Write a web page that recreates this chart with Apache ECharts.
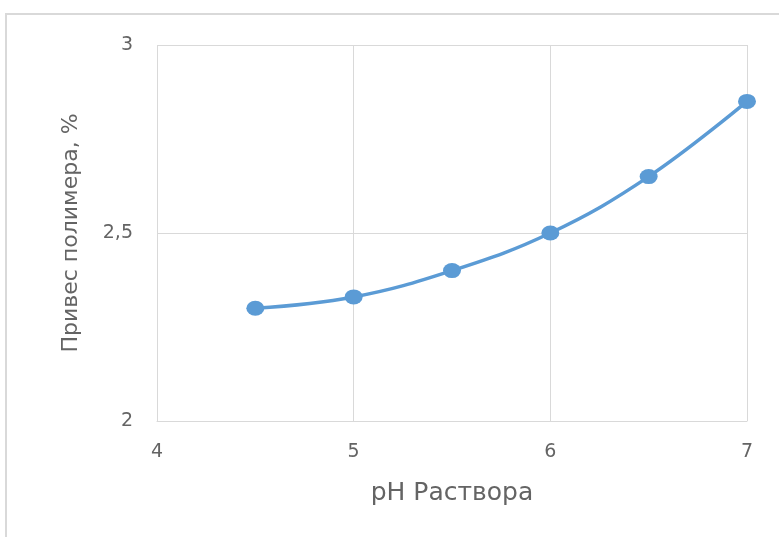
<!DOCTYPE html>
<html>
<head>
<meta charset="utf-8">
<style>
  html, body { margin: 0; padding: 0; background: #fff; }
  #chart { width: 779px; height: 537px; }
</style>
<script src="https://cdn.jsdelivr.net/npm/echarts@6/dist/echarts.min.js"></script>
</head>
<body>
<div id="chart"></div>
<script>
// pH of the solution and the measured polymer weight gain
const phValues = [4.5, 5, 5.5, 6, 6.5, 7];
const weightGain = [2.30, 2.33, 2.40, 2.50, 2.65, 2.85];
const xTicks = [4, 5, 6, 7];
const yTicks = [2, 2.5, 3];

const FONT = '"DejaVu Sans", "Open Sans", sans-serif';
const TEXT = '#646464';
const GRID = '#d9d9d9';
const BLUE = '#5b9bd5';

const chart = echarts.init(document.getElementById('chart'), null, { renderer: 'canvas' });

chart.setOption({
  animation: false,
  backgroundColor: '#ffffff',
  graphic: [{
    type: 'polyline',
    shape: { points: [[6, 540], [6, 14], [782, 14]] },
    style: { stroke: GRID, lineWidth: 2, fill: null },
    silent: true
  }],
  grid: { left: 157, right: 32, top: 45, bottom: 116, containLabel: false },
  xAxis: {
    type: 'value',
    min: xTicks[0],
    max: xTicks[xTicks.length - 1],
    interval: 1,
    name: 'pH Раствора',
    nameLocation: 'middle',
    nameGap: 60,
    nameTextStyle: { color: TEXT, fontSize: 25, fontFamily: FONT },
    axisLine: { show: true, lineStyle: { color: GRID, width: 1 } },
    axisTick: { show: false },
    axisLabel: { color: TEXT, fontSize: 19, fontFamily: FONT, margin: 22 },
    splitLine: { show: true, lineStyle: { color: GRID, width: 1 } }
  },
  yAxis: {
    type: 'value',
    min: yTicks[0],
    max: yTicks[yTicks.length - 1],
    interval: 0.5,
    name: 'Привес полимера, %',
    nameLocation: 'middle',
    nameGap: 75,
    nameRotate: 90,
    nameTextStyle: { color: TEXT, fontSize: 22, fontFamily: FONT },
    axisLine: { show: false },
    axisTick: { show: false },
    axisLabel: {
      color: TEXT, fontSize: 19, fontFamily: FONT, margin: 24,
      formatter: v => String(v).replace('.', ',')
    },
    splitLine: { show: true, lineStyle: { color: GRID, width: 1 } }
  },
  series: [{
    type: 'line',
    data: phValues.map((x, i) => [x, weightGain[i]]),
    smooth: 0.4,
    symbol: 'circle',
    symbolSize: [18, 15],
    lineStyle: { color: BLUE, width: 3.5 },
    itemStyle: { color: BLUE }
  }]
});
</script>
</body>
</html>
